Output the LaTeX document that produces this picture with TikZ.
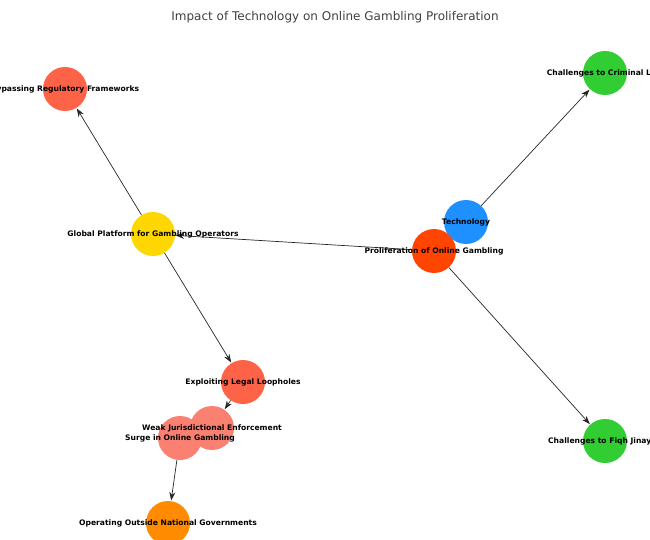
\documentclass[tikz,border=0pt]{standalone}
\usepackage{fontspec}
\setmainfont{DejaVu Sans}
\usetikzlibrary{arrows.meta}
\definecolor{cTomato}{HTML}{FF6347}
\definecolor{cOrangeRed}{HTML}{FF4500}
\definecolor{cBlue}{HTML}{1E90FF}
\definecolor{cGold}{HTML}{FFD700}
\definecolor{cSalmon}{HTML}{FA8072}
\definecolor{cDarkOrange}{HTML}{FF8C00}
\definecolor{cLime}{HTML}{32CD32}
\definecolor{cTitle}{HTML}{404040}
\tikzset{
  dot/.style={circle, fill=#1, draw=none, minimum size=44pt, inner sep=0pt},
  lbl/.style={font=\fontsize{7.6}{9}\selectfont\bfseries, text=black, inner sep=0pt},
  edge/.style={draw=black!85, line width=0.7pt, -{Stealth[length=8.5pt,width=6pt]}, shorten >=0.5pt}
}
\begin{document}
\begin{tikzpicture}[x=1pt,y=-1pt]
\useasboundingbox (0,0) rectangle (650,540);
\clip (0,0) rectangle (650,540);
\node[font=\fontsize{12}{14}\selectfont, text=cTitle] (title) at (335,17) {Impact of Technology on Online Gambling Proliferation};
% nodes
\node[dot=cTomato] (byp) at (65,89) {};
\node[dot=cLime] (crim) at (605,73) {};
\node[dot=cBlue] (tech) at (466,222) {};
\node[dot=cOrangeRed] (prol) at (434,251) {};
\node[dot=cGold] (glob) at (153,234) {};
\node[dot=cTomato] (expl) at (243,382) {};
\node[dot=cSalmon] (weak) at (212,428) {};
\node[dot=cSalmon] (surge) at (180,438) {};
\node[dot=cDarkOrange] (oper) at (168,523) {};
\node[dot=cLime] (fiqh) at (605,441) {};
% edges
\draw[edge] (tech) -- (crim);
\draw[edge] (prol) -- (glob);
\draw[edge] (prol) -- (fiqh);
\draw[edge] (glob) -- (byp);
\draw[edge] (glob) -- (expl);
\draw[edge] (expl) -- (weak);
\draw[edge] (surge) -- (oper);
% labels
\node[lbl] (lbyp) at (byp) {Bypassing Regulatory Frameworks};
\node[lbl] (lcrim) at (crim) {Challenges to Criminal Law};
\node[lbl] (ltech) at (tech) {Technology};
\node[lbl] (lprol) at (prol) {Proliferation of Online Gambling};
\node[lbl] (lglob) at (glob) {Global Platform for Gambling Operators};
\node[lbl] (lexpl) at (expl) {Exploiting Legal Loopholes};
\node[lbl] (lweak) at (weak) {Weak Jurisdictional Enforcement};
\node[lbl] (lsurge) at (surge) {Surge in Online Gambling};
\node[lbl] (loper) at (oper) {Operating Outside National Governments};
\node[lbl] (lfiqh) at (fiqh) {Challenges to Fiqh Jinayah};
\end{tikzpicture}
\end{document}
